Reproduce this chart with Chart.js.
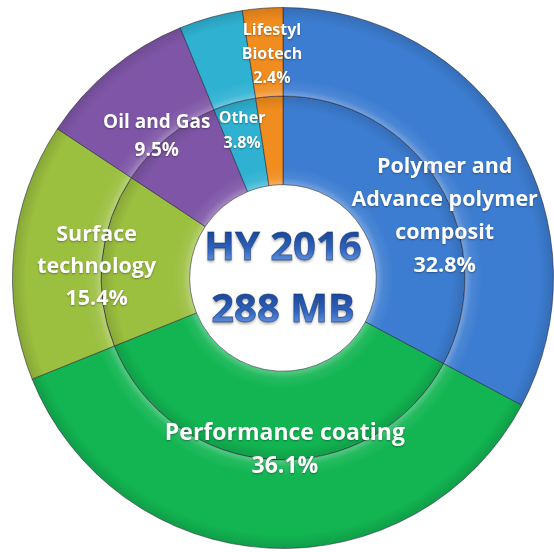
<!DOCTYPE html>
<html>
<head>
<meta charset="utf-8">
<script src="https://cdn.jsdelivr.net/npm/chart.js@4.4.1/dist/chart.umd.min.js"></script>
<style>
  html, body { margin: 0; padding: 0; background: #fff; }
  #wrap { width: 554px; height: 552px; position: relative; }
</style>
</head>
<body>
<div id="wrap"><canvas id="myChart"></canvas></div>
<script>
// segments, clockwise from 12 o'clock
var sectors = [
  ['Polymer and', 'Advance polymer', 'composit'],
  ['Performance coating'],
  ['Surface', 'technology'],
  ['Oil and Gas'],
  ['Other'],
  ['Lifestyl', 'Biotech']
];
var shares = [32.8, 36.1, 15.4, 9.5, 3.8, 2.4];
var centerLines = ['HY 2016', '288 MB'];

var colors = ['#3c7dd1', '#12b552', '#9bbf3f', '#7f56a7', '#2fb2d2', '#f18c1e'];

// label placement: radius as share of outer radius, angle shift in degrees, font size, line height
var labelStyle = [
  { r: 0.64, da: 10, size: 21.5, lh: 33 },
  { r: 0.636, da: -3.7, size: 23, lh: 33 },
  { r: 0.69, da: -2.4, size: 21.5, lh: 32 },
  { r: 0.70, da: -2.4, size: 19, lh: 28 },
  { r: 0.566, da: 0, size: 16, lh: 25 },
  { r: 0.827, da: 1.5, size: 16, lh: 24 }
];

var CUT = 0.345;

function shade(hex, f) {
  var n = parseInt(hex.slice(1), 16);
  var r = (n >> 16) & 255, g = (n >> 8) & 255, b = n & 255;
  if (f > 0) {
    r = r + (255 - r) * f; g = g + (255 - g) * f; b = b + (255 - b) * f;
  } else {
    r = r * (1 + f); g = g * (1 + f); b = b * (1 + f);
  }
  return 'rgb(' + Math.round(r) + ',' + Math.round(g) + ',' + Math.round(b) + ')';
}

function ringFill(c) {
  var base = colors[c.dataIndex];
  var area = c.chart.chartArea;
  if (!area) return base;
  var cx = (area.left + area.right) / 2, cy = (area.top + area.bottom) / 2;
  var R = Math.min(area.right - area.left, area.bottom - area.top) / 2 - 1;
  var hole = R * CUT, mid = (R + hole) / 2;
  var r0 = c.datasetIndex === 0 ? mid : hole;
  var r1 = c.datasetIndex === 0 ? R : mid;
  var g = c.chart.ctx.createRadialGradient(cx, cy, r0, cx, cy, r1);
  g.addColorStop(0, shade(base, 0.3));
  g.addColorStop(0.08, shade(base, 0.08));
  g.addColorStop(0.2, base);
  g.addColorStop(0.85, base);
  g.addColorStop(1, shade(base, -0.12));
  return g;
}

var labelPlugin = {
  id: 'sliceLabels',
  afterDatasetsDraw: function (chart) {
    var ctx = chart.ctx;
    var arcs = chart.getDatasetMeta(0).data;
    ctx.save();
    ctx.fillStyle = '#ffffff';
    ctx.textAlign = 'center';
    ctx.textBaseline = 'middle';
    ctx.shadowColor = 'rgba(0,0,0,0.35)';
    ctx.shadowBlur = 2;
    ctx.shadowOffsetY = 1;
    arcs.forEach(function (arc, i) {
      var p = arc.getProps(['x', 'y', 'startAngle', 'endAngle', 'outerRadius']);
      var st = labelStyle[i];
      var a = (p.startAngle + p.endAngle) / 2 + st.da * Math.PI / 180;
      var x = p.x + Math.cos(a) * p.outerRadius * st.r;
      var y = p.y + Math.sin(a) * p.outerRadius * st.r;
      var lines = sectors[i].concat([shares[i].toFixed(1) + '%']);
      ctx.font = 'bold ' + st.size + 'px "Open Sans", sans-serif';
      var top = y - (lines.length - 1) * st.lh / 2;
      lines.forEach(function (t, k) {
        ctx.fillText(t, x, top + k * st.lh);
      });
    });
    ctx.restore();

    // centre caption
    var c = arcs[0];
    var cx = c.x, cy = c.y;
    ctx.save();
    ctx.font = 'bold 40px "Open Sans", sans-serif';
    ctx.textAlign = 'center';
    ctx.textBaseline = 'middle';
    [-29, 33].forEach(function (dy, k) {
      var y = cy + dy;
      var g = ctx.createLinearGradient(0, y - 16, 0, y + 16);
      g.addColorStop(0, '#1b4a9c');
      g.addColorStop(0.5, '#2d63bf');
      g.addColorStop(1, '#6f9fe4');
      ctx.shadowColor = 'rgba(0,0,0,0.35)';
      ctx.shadowBlur = 3;
      ctx.shadowOffsetY = 2;
      ctx.fillStyle = g;
      ctx.fillText(centerLines[k], cx, y);
      ctx.shadowColor = 'transparent';
      ctx.lineWidth = 0.8;
      ctx.strokeStyle = 'rgba(20,50,110,0.6)';
      ctx.strokeText(centerLines[k], cx, y);
    });
    ctx.restore();
  }
};

var ctx = document.getElementById('myChart').getContext('2d');
var chart = new Chart(ctx, {
  type: 'doughnut',
  data: {
    labels: sectors,
    datasets: [{
      data: shares,
      backgroundColor: ringFill,
      borderColor: 'rgba(35,35,55,0.55)',
      borderWidth: 1
    }, {
      data: shares,
      backgroundColor: ringFill,
      borderColor: 'rgba(35,35,55,0.55)',
      borderWidth: 1
    }]
  },
  options: {
    responsive: true,
    maintainAspectRatio: false,
    animation: false,
    cutout: (CUT * 100) + '%',
    layout: { padding: { left: 12, right: 0, top: 6, bottom: 2 } },
    plugins: {
      legend: { display: false },
      tooltip: { enabled: false }
    }
  },
  plugins: [labelPlugin]
});
</script>
</body>
</html>
